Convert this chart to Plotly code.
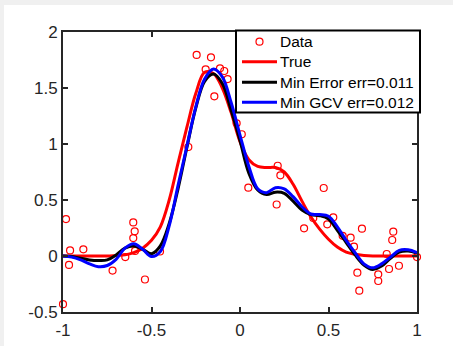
import plotly.graph_objects as go

# Noisy samples
data_x = [-1.0, -0.983, -0.966, -0.96, -0.885, -0.72, -0.648, -0.603, -0.595, -0.603,
          -0.593, -0.537, -0.452, -0.292, -0.245, -0.194, -0.164, -0.145, -0.113, -0.089,
          -0.07, -0.019, 0.01, 0.047, 0.207, 0.213, 0.228, 0.362, 0.414, 0.473,
          0.493, 0.527, 0.58, 0.625, 0.644, 0.663, 0.674, 0.689, 0.781, 0.781,
          0.829, 0.842, 0.86, 0.866, 0.898, 1.0]
data_y = [-0.43, 0.33, -0.08, 0.05, 0.06, -0.13, -0.01, 0.30, 0.22, 0.16,
          0.045, -0.21, 0.04, 0.973, 1.795, 1.667, 1.774, 1.426, 1.676, 1.652,
          1.58, 1.185, 1.087, 0.61, 0.46, 0.806, 0.72, 0.247, 0.34, 0.607,
          0.283, 0.345, 0.18, 0.164, 0.083, -0.149, -0.31, 0.244, -0.164, -0.223,
          0.018, -0.116, 0.143, 0.217, -0.087, -0.01]

# Curves sampled on a common grid
grid_x = [-1.0, -0.95, -0.9, -0.85, -0.8, -0.75, -0.7, -0.65, -0.6, -0.55,
          -0.5, -0.45, -0.4, -0.35, -0.3, -0.25, -0.2, -0.15, -0.1, -0.05,
          0.0, 0.05, 0.1, 0.15, 0.2, 0.25, 0.3, 0.35, 0.4, 0.45,
          0.5, 0.55, 0.6, 0.65, 0.7, 0.75, 0.8, 0.85, 0.9, 0.95, 1.0]
true_y = [0.0, 0.0, 0.0, 0.0, 0.0, 0.0, 0.005, 0.01, 0.03, 0.07,
          0.14, 0.26, 0.50, 0.83, 1.15, 1.45, 1.64, 1.63, 1.50, 1.28,
          1.02, 0.86, 0.80, 0.79, 0.79, 0.75, 0.64, 0.49, 0.35, 0.24,
          0.15, 0.08, 0.035, 0.015, 0.005, 0.0, 0.0, 0.0, 0.0, 0.0, 0.0]
min_err_y = [0.0, -0.005, -0.02, -0.035, -0.04, -0.035, 0.01, 0.07, 0.09, 0.06,
             0.02, 0.09, 0.29, 0.60, 0.97, 1.32, 1.56, 1.625, 1.54, 1.30,
             1.03, 0.74, 0.59, 0.55, 0.57, 0.56, 0.49, 0.41, 0.37, 0.36,
             0.33, 0.23, 0.12, 0.01, -0.08, -0.12, -0.09, -0.02, 0.035, 0.045, 0.025]
min_gcv_y = [0.0, -0.01, -0.035, -0.07, -0.095, -0.085, -0.03, 0.07, 0.11, 0.06,
             -0.005, 0.04, 0.27, 0.63, 0.98, 1.33, 1.58, 1.67, 1.60, 1.37,
             1.08, 0.80, 0.60, 0.565, 0.61, 0.60, 0.53, 0.44, 0.375, 0.37,
             0.355, 0.26, 0.14, 0.03, -0.07, -0.105, -0.07, -0.01, 0.05, 0.055, 0.03]

x_ticks = [-1, -0.5, 0, 0.5, 1]
x_tick_text = ["-1", "-0.5", "0", "0.5", "1"]
y_ticks = [-0.5, 0, 0.5, 1, 1.5, 2]
y_tick_text = ["-0.5", "0", "0.5", "1", "1.5", "2"]

legend_labels = ["Data", "True", "Min Error err=0.011", "Min GCV err=0.012"]
legend_colors = ["#ff0000", "#ff0000", "#000000", "#0000ff"]

font_family = "Liberation Sans, Arial, sans-serif"
axis_color = "#262626"

W, H = 453, 346
M_L, M_R, M_T, M_B = 63, 36, 32, 34
plot_w, plot_h = W - M_L - M_R, H - M_T - M_B


def px_to_paper_x(px):
    return (px - M_L) / plot_w


def py_to_paper_y(py):
    return (H - M_B - py) / plot_h


fig = go.Figure()
fig.add_trace(go.Scatter(
    x=data_x, y=data_y, mode="markers", name=legend_labels[0], cliponaxis=False,
    marker=dict(symbol="circle-open", size=7, color=legend_colors[0],
                line=dict(width=1.2, color=legend_colors[0])),
))
for ys, name, color in [(true_y, legend_labels[1], legend_colors[1]),
                        (min_err_y, legend_labels[2], legend_colors[2]),
                        (min_gcv_y, legend_labels[3], legend_colors[3])]:
    fig.add_trace(go.Scatter(
        x=grid_x, y=ys, mode="lines", name=name,
        line=dict(color=color, width=3, shape="spline", smoothing=1.0),
    ))

axis_common = dict(
    showgrid=False, zeroline=False, showline=True, linecolor=axis_color, linewidth=2,
    mirror="ticks", ticks="inside", ticklen=5, tickwidth=2, tickcolor=axis_color,
    tickfont=dict(family=font_family, size=17, color=axis_color), automargin=False,
)

# Boxed legend in the upper-right corner of the axes
box_l, box_r, box_t, box_b = 236, 420, 30.5, 112.5
row_y = [41.7, 61.7, 82.3, 102.3]
sample_l, sample_r, text_x = 242, 277, 278

shapes = [
    dict(type="rect", xref="paper", yref="paper", x0=-0.1667, x1=1.2, y0=-0.2, y1=1.0964,
         fillcolor="white", line=dict(width=0), layer="below"),
    dict(type="rect", xref="paper", yref="paper",
         x0=px_to_paper_x(box_l), x1=px_to_paper_x(box_r),
         y0=py_to_paper_y(box_b), y1=py_to_paper_y(box_t),
         fillcolor="white", line=dict(color="#000000", width=2), layer="above"),
    dict(type="circle", xref="paper", yref="paper", xsizemode="pixel", ysizemode="pixel",
         xanchor=px_to_paper_x((sample_l + sample_r) / 2), yanchor=py_to_paper_y(row_y[0]),
         x0=-3.5, x1=3.5, y0=-3.5, y1=3.5,
         line=dict(color=legend_colors[0], width=1.2), layer="above"),
]
for ry, color in zip(row_y[1:], legend_colors[1:]):
    shapes.append(dict(type="line", xref="paper", yref="paper",
                       x0=px_to_paper_x(sample_l), x1=px_to_paper_x(sample_r),
                       y0=py_to_paper_y(ry), y1=py_to_paper_y(ry),
                       line=dict(color=color, width=3), layer="above"))

annotations = [
    dict(text=label, xref="paper", yref="paper", x=px_to_paper_x(text_x), y=py_to_paper_y(ry),
         xanchor="left", yanchor="middle", showarrow=False,
         font=dict(family=font_family, size=15.5, color="#000000"))
    for label, ry in zip(legend_labels, row_y)
]

fig.update_layout(
    width=W, height=H,
    margin=dict(l=M_L, r=M_R, t=M_T, b=M_B),
    paper_bgcolor="#f0f0f0", plot_bgcolor="white",
    showlegend=False,
    xaxis=dict(range=[-1, 1], tickvals=x_ticks, ticktext=x_tick_text,
               ticklabelstandoff=2, **axis_common),
    yaxis=dict(range=[-0.5, 2], tickvals=y_ticks, ticktext=y_tick_text, **axis_common),
    shapes=shapes,
    annotations=annotations,
)

fig.write_html("out.html")
